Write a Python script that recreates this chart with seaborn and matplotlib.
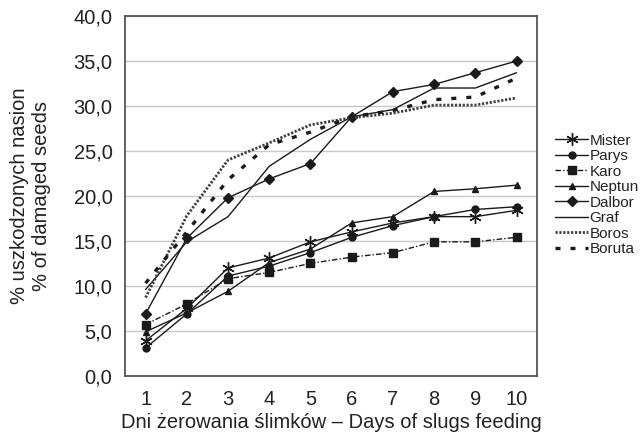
import numpy as np
import pandas as pd
import seaborn as sns
import matplotlib.pyplot as plt
from matplotlib.ticker import FuncFormatter, MultipleLocator

# ─────────────────────────────────────────────
# data
# ─────────────────────────────────────────────
days = [1, 2, 3, 4, 5, 6, 7, 8, 9, 10]

mister = [3.9, 7.5, 12.0, 13.1, 14.9, 16.0, 17.0, 17.7, 17.7, 18.4]
parys  = [3.1, 6.9, 11.1, 12.2, 13.7, 15.4, 16.7, 17.7, 18.5, 18.8]
karo   = [5.7, 8.0, 10.8, 11.5, 12.5, 13.2, 13.7, 14.9, 14.9, 15.4]
neptun = [4.9, 7.0, 9.4, 12.6, 14.1, 17.0, 17.7, 20.5, 20.8, 21.2]
dalbor = [6.9, 15.3, 19.8, 21.9, 23.6, 28.8, 31.6, 32.4, 33.7, 35.0]
graf   = [9.6, 14.9, 17.7, 23.3, 26.3, 28.8, 29.6, 32.0, 32.0, 33.7]
boros  = [8.7, 17.8, 24.0, 25.9, 27.9, 28.7, 29.2, 30.1, 30.1, 30.9]
boruta = [10.3, 16.0, 21.8, 25.7, 27.1, 28.8, 29.5, 30.7, 31.0, 33.1]

names = ["Mister", "Parys", "Karo", "Neptun", "Dalbor", "Graf", "Boros", "Boruta"]
values = [mister, parys, karo, neptun, dalbor, graf, boros, boruta]

# line look per variety (Excel b/w style)
styles = {
    "Mister": dict(marker=(6, 2, 0), markersize=9, linestyle="-", lw=1.0, color="#1a1a1a"),
    "Parys":  dict(marker="o", markersize=5, linestyle="-", lw=1.0, color="#1a1a1a"),
    "Karo":   dict(marker="s", markersize=6, linestyle=(0, (4, 1.5, 1, 1.5)), lw=1.0, color="#1a1a1a"),
    "Neptun": dict(marker="^", markersize=5, linestyle="-", lw=1.0, color="#1a1a1a"),
    "Dalbor": dict(marker="D", markersize=5, linestyle="-", lw=1.0, color="#1a1a1a"),
    "Graf":   dict(marker=None, linestyle="-", lw=1.0, color="#1a1a1a"),
    "Boros":  dict(marker=None, linestyle=(0, (0.8, 0.6)), lw=2.0, color="#404040"),
    "Boruta": dict(marker=None, linestyle=(0, (1.5, 3.0)), lw=2.4, color="#1a1a1a"),
}

sns.set_style("white")
plt.rcParams['font.family'] = ['Liberation Sans', 'DejaVu Sans']

fig = plt.figure(figsize=(6.41, 4.34), dpi=100)
ax = fig.add_axes([0.195, 0.134, 0.643, 0.829])

for name, vals in zip(names, values):
    st = styles[name]
    sns.lineplot(x=days, y=vals, ax=ax, color=st["color"], label=name,
                 marker=st["marker"],
                 markersize=st.get("markersize", 5),
                 markeredgecolor="#1a1a1a", markerfacecolor="#1a1a1a",
                 markeredgewidth=1.0,
                 linestyle=st["linestyle"], linewidth=st["lw"])

# axes
ax.set_xlim(0.5, 10.5)
ax.set_ylim(0, 40)
ax.set_xticks(days)
ax.set_xticklabels([str(d) for d in days])
ax.set_xticks(np.arange(0.5, 11, 1), minor=True)
ax.tick_params(axis="x", which="major", length=0, pad=10, labelsize=14.5, colors="#222")
ax.tick_params(axis="x", which="minor", length=5, color="#777", direction="out")
ax.tick_params(axis="y", length=5, color="#777", direction="out", pad=4,
               labelsize=14.5, colors="#222")
ax.yaxis.set_major_locator(MultipleLocator(5))
ax.yaxis.set_major_formatter(FuncFormatter(lambda v, p: f"{v:.1f}".replace(".", ",")))
ax.yaxis.grid(True, color="#c8c8c8", lw=1.0)
ax.xaxis.grid(False)
for sp in ax.spines.values():
    sp.set_visible(True)
    sp.set_color("#555555")
    sp.set_linewidth(1.3)

ax.set_xlabel("Dni żerowania ślimków – Days of slugs feeding", fontsize=14.5,
              color="#222", labelpad=3)
ax.set_ylabel("% uszkodzonych nasion\n% of damaged seeds", fontsize=14.5,
              color="#222", labelpad=16, linespacing=1.2)

leg = ax.legend(loc="center left", bbox_to_anchor=(1.044, 0.503), frameon=False,
                fontsize=11, handlelength=2.15, handletextpad=0.1, labelspacing=0.1,
                borderaxespad=0, borderpad=0)
for t in leg.get_texts():
    t.set_color("#222")

fig.savefig("out.png", dpi=100)
